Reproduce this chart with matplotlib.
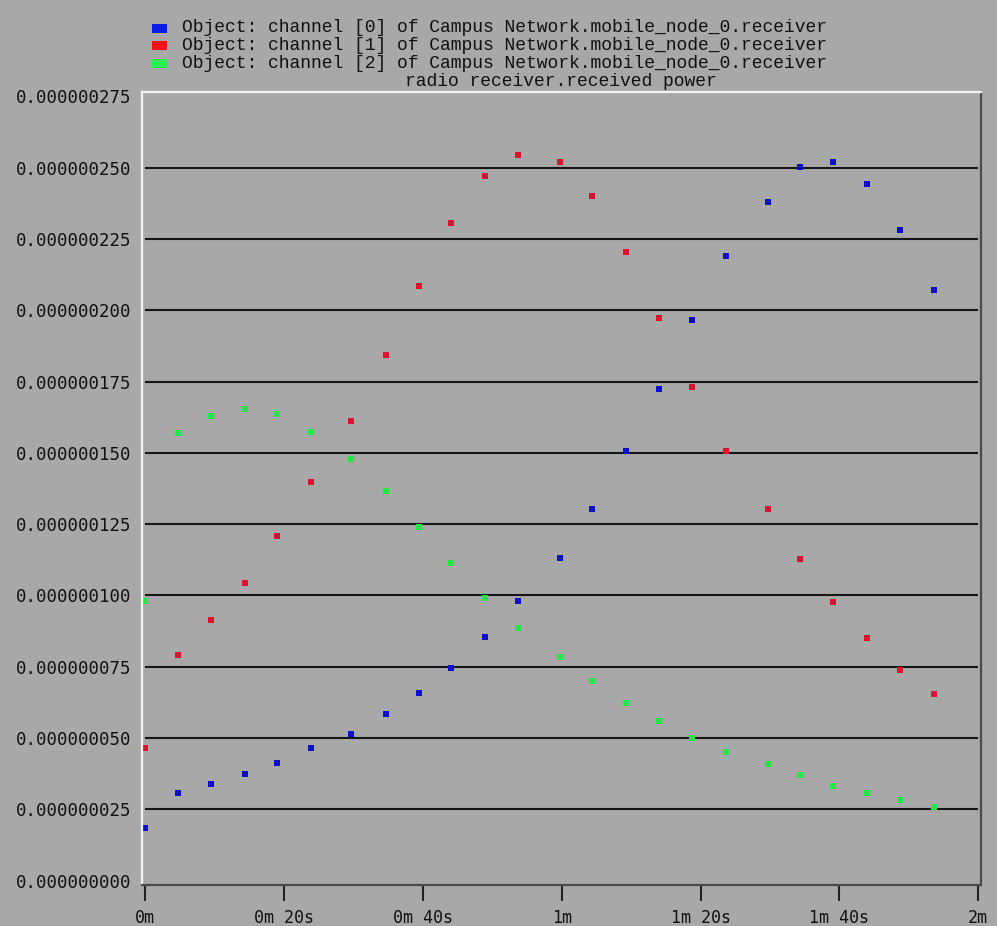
import matplotlib
matplotlib.use("Agg")
import matplotlib.pyplot as plt
import numpy as np
from matplotlib.patches import Rectangle
from matplotlib.ticker import FixedLocator, FuncFormatter

# sample times (seconds) shared by all three channels
times = [0.0, 4.7, 9.4, 14.3, 19.0, 23.8, 29.7, 34.7, 39.4, 44.0, 49.0, 53.7,
         59.7, 64.4, 69.3, 74.0, 78.7, 83.7, 89.7, 94.3, 99.1, 104.0, 108.7, 113.7]

# received power per channel, in nanowatts
channel_0 = [18.6, 30.6, 33.8, 37.5, 41.3, 46.4, 51.3, 58.4, 65.9, 74.7, 85.4, 98.1,
             113.3, 130.3, 150.7, 172.3, 196.5, 219.1, 238.1, 250.1, 251.9, 244.4, 228.1, 207.2]
channel_1 = [46.4, 79.1, 91.3, 104.4, 120.8, 139.7, 161.1, 184.4, 208.5, 230.5, 247.0, 254.5,
             251.9, 240.1, 220.3, 197.2, 173.1, 150.7, 130.3, 112.7, 97.6, 85.2, 74.0, 65.5]
channel_2 = [98.1, 156.9, 163.0, 165.3, 163.6, 157.3, 148.0, 136.7, 123.9, 111.5, 99.2, 88.7,
             78.5, 70.0, 62.2, 56.0, 49.9, 45.2, 40.8, 37.1, 33.2, 30.8, 28.2, 25.9]

series_labels = [
    "Object: channel [0] of Campus Network.mobile_node_0.receiver",
    "Object: channel [1] of Campus Network.mobile_node_0.receiver",
    "Object: channel [2] of Campus Network.mobile_node_0.receiver",
]
chart_title = "radio receiver.received power"

x_ticks = [0, 20, 40, 60, 80, 100, 120]
x_tick_labels = ["0m", "0m 20s", "0m 40s", "1m", "1m 20s", "1m 40s", "2m"]
y_ticks_nw = [0, 25, 50, 75, 100, 125, 150, 175, 200, 225, 250, 275]

BG = "#a8a8a8"
marker_colors = ["#0c10c8", "#dc1430", "#24e448"]
legend_colors = ["#0a1ee6", "#f01414", "#28f050"]

W, H = 997, 926
fig = plt.figure(figsize=(W / 100, H / 100), dpi=100)
fig.patch.set_facecolor(BG)

# axes box in pixel coordinates
left_px, right_px, top_px, bottom_px = 142, 981, 92, 885
ax = fig.add_axes([left_px / W, 1 - bottom_px / H,
                   (right_px - left_px) / W, (bottom_px - top_px) / H])
ax.set_facecolor(BG)

ax.set_xlim(-0.48, 120.4)
ax.set_ylim(-1.5e-9, 276.5e-9)

# horizontal reference lines spanning the time range
grid_levels = np.array(y_ticks_nw[1:-1]) * 1e-9
ax.hlines(grid_levels, 0, 120, colors="#151515", linewidth=1.5, zorder=1)

for vals, color in zip([channel_0, channel_1, channel_2], marker_colors):
    ax.plot(times, np.array(vals) * 1e-9, linestyle="none", marker="s",
            markersize=4.4, markeredgewidth=0, color=color, zorder=3)

# axes frame: light on top/left, dark on bottom/right
for side in ("left", "top"):
    ax.spines[side].set_color("#f4f4f4")
    ax.spines[side].set_linewidth(1.6)
for side in ("right", "bottom"):
    ax.spines[side].set_color("#4a4a4a")
    ax.spines[side].set_linewidth(1.6)
for sp in ax.spines.values():
    sp.set_zorder(4)

ax.xaxis.set_major_locator(FixedLocator(x_ticks))
ax.set_xticklabels(x_tick_labels, family="DejaVu Sans Mono", fontsize=12, color="#111111")
ax.tick_params(axis="x", direction="out", length=11.5, width=1.5, color="#222222", pad=6)

ax.yaxis.set_major_locator(FixedLocator(np.array(y_ticks_nw) * 1e-9))
ax.yaxis.set_major_formatter(FuncFormatter(lambda v, _: f"{v:.9f}"))
for lbl in ax.get_yticklabels():
    lbl.set_family("DejaVu Sans Mono")
ax.tick_params(axis="y", length=0, pad=8, labelsize=12.5, labelcolor="#111111")

# legend block above the plot
row_y = [28, 45.5, 63.5]
for label, color, y in zip(series_labels, legend_colors, row_y):
    fig.patches.append(Rectangle((152 / W, 1 - (y + 4.5) / H), 15 / W, 9 / H,
                                 transform=fig.transFigure, facecolor=color,
                                 edgecolor="none"))
    fig.text(182 / W, 1 - y / H, label, family="Liberation Mono", fontsize=13,
             va="center", ha="left", color="#111111")
fig.text(561 / W, 1 - 82 / H, chart_title, family="Liberation Mono", fontsize=13,
         va="center", ha="center", color="#111111")

fig.savefig("out.png", dpi=100, facecolor=BG)
